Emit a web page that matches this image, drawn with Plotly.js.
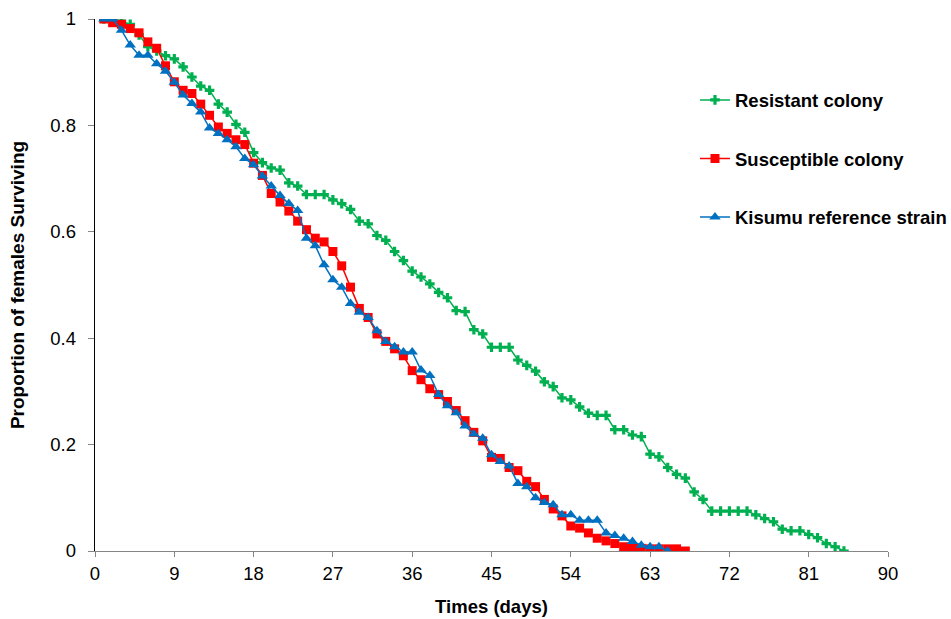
<!DOCTYPE html>
<html>
<head>
<meta charset="utf-8">
<script src="https://cdn.plot.ly/plotly-3.0.1.min.js"></script>
<style>html,body{margin:0;padding:0;background:#fff;}#chart{width:951px;height:619px;}</style>
</head>
<body>
<div id="chart"></div>
<script>
// Days (x) for each series
var resistantDays = [];
for (var d = 1; d <= 85; d++) resistantDays.push(d);
var susceptibleDays = [];
for (var d2 = 1; d2 <= 67; d2++) susceptibleDays.push(d2);
var kisumuDays = [];
for (var d3 = 1; d3 <= 65; d3++) kisumuDays.push(d3);

var resistantValues = [
  1.0, 1.0, 0.996, 0.990, 0.970, 0.948, 0.940, 0.931, 0.925, 0.910,
  0.891, 0.874, 0.866, 0.840, 0.825, 0.802, 0.787, 0.749, 0.730, 0.720,
  0.716, 0.692, 0.686, 0.670, 0.670, 0.670, 0.660, 0.653, 0.642, 0.620,
  0.615, 0.593, 0.584, 0.563, 0.546, 0.526, 0.515, 0.502, 0.486, 0.476,
  0.452, 0.450, 0.416, 0.408, 0.383, 0.383, 0.383, 0.359, 0.349, 0.338,
  0.318, 0.309, 0.288, 0.284, 0.271, 0.259, 0.255, 0.255, 0.228, 0.228,
  0.218, 0.215, 0.182, 0.177, 0.157, 0.144, 0.137, 0.111, 0.097, 0.075,
  0.075, 0.075, 0.075, 0.075, 0.068, 0.061, 0.055, 0.041, 0.038, 0.038,
  0.031, 0.025, 0.014, 0.008, 0.0
];
var susceptibleValues = [
  1.0, 0.993, 0.990, 0.982, 0.974, 0.957, 0.945, 0.912, 0.882, 0.866,
  0.860, 0.840, 0.819, 0.797, 0.785, 0.773, 0.764, 0.729, 0.706, 0.672,
  0.656, 0.639, 0.620, 0.604, 0.588, 0.581, 0.563, 0.536, 0.496, 0.456,
  0.439, 0.408, 0.394, 0.380, 0.367, 0.339, 0.322, 0.305, 0.294, 0.281,
  0.264, 0.245, 0.223, 0.207, 0.176, 0.174, 0.157, 0.151, 0.131, 0.121,
  0.097, 0.079, 0.066, 0.047, 0.043, 0.034, 0.024, 0.019, 0.014, 0.008,
  0.006, 0.005, 0.004, 0.004, 0.004, 0.004, 0.0
];
var kisumuValues = [
  1.0, 1.0, 0.979, 0.951, 0.932, 0.932, 0.916, 0.902, 0.881, 0.857,
  0.841, 0.825, 0.795, 0.785, 0.773, 0.760, 0.738, 0.726, 0.705, 0.686,
  0.668, 0.653, 0.640, 0.588, 0.574, 0.538, 0.510, 0.496, 0.465, 0.449,
  0.439, 0.414, 0.394, 0.384, 0.374, 0.374, 0.340, 0.330, 0.294, 0.273,
  0.260, 0.235, 0.220, 0.212, 0.181, 0.168, 0.160, 0.127, 0.121, 0.100,
  0.091, 0.087, 0.068, 0.068, 0.058, 0.058, 0.058, 0.034, 0.029, 0.024,
  0.018, 0.011, 0.008, 0.008, 0.0
];

var seriesNames = ["Resistant colony", "Susceptible colony", "Kisumu reference strain"];
var yTickVals = [0, 0.2, 0.4, 0.6, 0.8, 1];
var yTickText = ["0", "0.2", "0.4", "0.6", "0.8", "1"];
var xTickVals = [0, 9, 18, 27, 36, 45, 54, 63, 72, 81, 90];

var FONT = "Liberation Sans, Arial, Helvetica, sans-serif";

var traces = [
  {x: resistantDays, y: resistantValues, name: seriesNames[0], legendgroup: "g1",
   type: "scatter", mode: "lines+markers",
   line: {color: "#00B050", width: 1.5},
   marker: {symbol: "cross", size: 8, color: "#00B050"}},
  {x: susceptibleDays, y: susceptibleValues, name: seriesNames[1], legendgroup: "g2",
   type: "scatter", mode: "lines+markers",
   line: {color: "#FF0000", width: 1.5},
   marker: {symbol: "square", size: 9, color: "#FF0000"}},
  {x: kisumuDays, y: kisumuValues, name: seriesNames[2], legendgroup: "g3",
   type: "scatter", mode: "lines+markers",
   line: {color: "#0070C0", width: 1.5},
   marker: {symbol: "triangle-up", size: 10, color: "#0070C0"}}
];

var layout = {
  width: 951, height: 619,
  margin: {l: 95, r: 63, t: 19, b: 68, pad: 0, autoexpand: false},
  paper_bgcolor: "#fff", plot_bgcolor: "#fff",
  font: {family: FONT, size: 18, color: "#000"},
  showlegend: true,
  legend: {
    xref: "container", yref: "container",
    x: 0.7308, y: 0.8685, xanchor: "left", yanchor: "top",
    traceorder: "grouped", tracegroupgap: 31.5,
    font: {family: FONT, size: 18.5, color: "#000", weight: "bold"},
    bgcolor: "rgba(0,0,0,0)", borderwidth: 0
  },
  xaxis: {
    range: [0, 90], tickvals: xTickVals, ticktext: xTickVals.map(String),
    showgrid: false, zeroline: false,
    showline: true, linecolor: "#868686", linewidth: 1.3,
    ticks: "outside", ticklen: 5, tickcolor: "#868686", tickwidth: 1,
    tickfont: {family: FONT, size: 18.5, color: "#000"},
    title: {text: "Times (days)", font: {family: FONT, size: 18.5, color: "#000", weight: "bold"}, standoff: 17}
  },
  yaxis: {
    range: [0, 1], tickvals: yTickVals, ticktext: yTickText,
    showgrid: false, zeroline: false,
    showline: true, linecolor: "#000", linewidth: 1.3,
    ticks: "outside", ticklen: 6, tickcolor: "#868686", tickwidth: 1,
    ticklabelstandoff: 8,
    tickfont: {family: FONT, size: 18.5, color: "#000"},
    title: {text: "Proportion of females Surviving", font: {family: FONT, size: 19, color: "#000", weight: "bold"}, standoff: 20}
  }
};

Plotly.newPlot("chart", traces, layout, {displayModeBar: false, staticPlot: true});
</script>
</body>
</html>
